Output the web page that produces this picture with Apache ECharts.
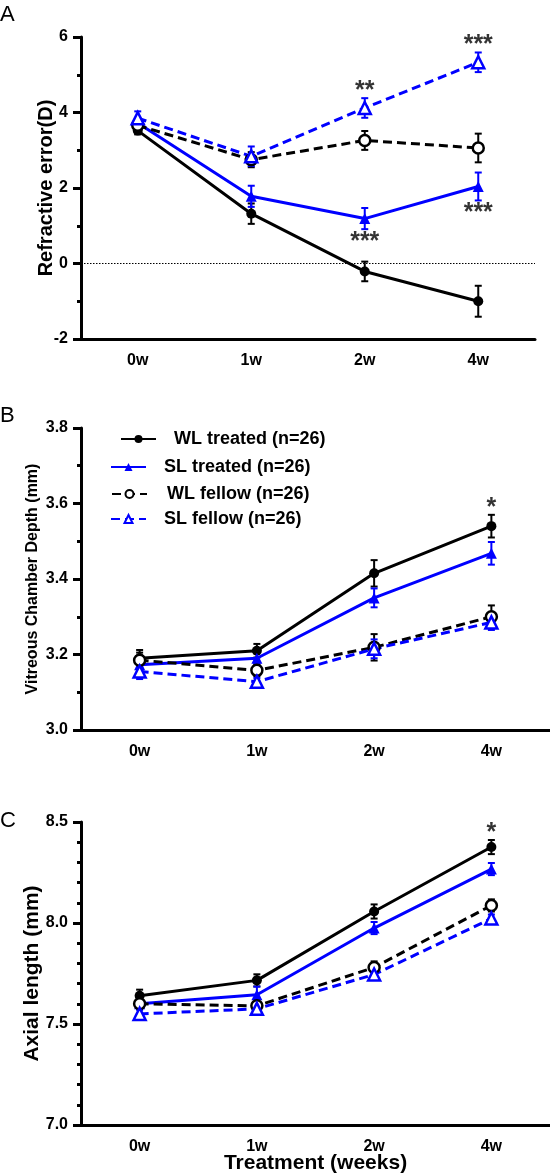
<!DOCTYPE html>
<html><head><meta charset="utf-8">
<script src="https://cdn.jsdelivr.net/npm/echarts@6/dist/echarts.min.js"></script>
<style>html,body{margin:0;padding:0;background:#fff}#c{width:550px;height:1176px}</style>
</head><body><div id="c"></div>
<script>
// ---------- DATA ----------
const categories = ['0w', '1w', '2w', '4w'];
const seriesNames = ['WL treated (n=26)', 'SL treated (n=26)', 'WL fellow (n=26)', 'SL fellow (n=26)'];

// Panel A: refractive error (D)
const refWLTreated = [3.52, 1.32, -0.21, -1.00];
const refWLTreatedErr = [0.10, 0.27, 0.26, 0.41];
const refSLTreated = [3.72, 1.78, 1.19, 2.04];
const refSLTreatedErr = [0.12, 0.28, 0.28, 0.37];
const refWLFellow = [3.66, 2.75, 3.26, 3.06];
const refWLFellowErr = [0.12, 0.20, 0.25, 0.38];
const refSLFellow = [3.85, 2.84, 4.12, 5.33];
const refSLFellowErr = [0.18, 0.26, 0.26, 0.26];

// Panel B: vitreous chamber depth (mm)
const vcdWLTreated = [3.190, 3.210, 3.415, 3.540];
const vcdWLTreatedErr = [0.022, 0.018, 0.035, 0.030];
const vcdSLTreated = [3.173, 3.190, 3.350, 3.468];
const vcdSLTreatedErr = [0.015, 0.015, 0.025, 0.030];
const vcdWLFellow = [3.185, 3.158, 3.219, 3.300];
const vcdWLFellowErr = [0.020, 0.015, 0.035, 0.030];
const vcdSLFellow = [3.155, 3.128, 3.215, 3.285];
const vcdSLFellowErr = [0.020, 0.010, 0.025, 0.020];

// Panel C: axial length (mm)
const alWLTreated = [7.640, 7.716, 8.057, 8.376];
const alWLTreatedErr = [0.030, 0.030, 0.035, 0.035];
const alSLTreated = [7.600, 7.645, 7.975, 8.267];
const alSLTreatedErr = [0.020, 0.040, 0.030, 0.030];
const alWLFellow = [7.600, 7.590, 7.780, 8.087];
const alWLFellowErr = [0.020, 0.020, 0.030, 0.030];
const alSLFellow = [7.550, 7.575, 7.745, 8.022];
const alSLFellowErr = [0.020, 0.020, 0.020, 0.020];

// Significance marks: category index, text, series index anchored to, side
const starCatsA = [2, 3, 2, 3];
const starTextA = ['**', '***', '***', '***'];
const starSeriesA = [3, 3, 1, 1];
const starSideA = ['above', 'above', 'below', 'below'];
const starCatsB = [3];
const starTextB = ['*'];
const starSeriesB = [0];
const starSideB = ['above'];
const starCatsC = [3];
const starTextC = ['*'];
const starSeriesC = [0];
const starSideC = ['above'];

// Axis ticks
const yTicksA = {min: -2, max: 6, interval: 2};
const yTicksB = {min: 3.0, max: 3.8, interval: 0.2};
const yTicksC = {min: 7.0, max: 8.5, interval: 0.5};

// ---------- BUILD ----------
const FONT = '"Liberation Sans", Arial, sans-serif';
const BLUE = '#0000ff';
const styles = [
  {color: '#000', dash: 'solid', symbol: 'circle', size: 10, fill: '#000'},
  {color: BLUE, dash: 'solid', symbol: 'triangle', size: 11, fill: BLUE},
  {color: '#000', dash: [9, 5], symbol: 'circle', size: 11, fill: '#fff'},
  {color: BLUE, dash: [9, 5], symbol: 'triangle', size: 12, fill: '#fff'}
];

const panels = [
  {means: [refWLTreated, refSLTreated, refWLFellow, refSLFellow],
   errs: [refWLTreatedErr, refSLTreatedErr, refWLFellowErr, refSLFellowErr],
   stars: [starCatsA, starTextA, starSeriesA, starSideA]},
  {means: [vcdWLTreated, vcdSLTreated, vcdWLFellow, vcdSLFellow],
   errs: [vcdWLTreatedErr, vcdSLTreatedErr, vcdWLFellowErr, vcdSLFellowErr],
   stars: [starCatsB, starTextB, starSeriesB, starSideB]},
  {means: [alWLTreated, alSLTreated, alWLFellow, alSLFellow],
   errs: [alWLTreatedErr, alSLTreatedErr, alWLFellowErr, alSLFellowErr],
   stars: [starCatsC, starTextC, starSeriesC, starSideC]}
];

const grids = [
  {left: 81, right: 15, top: 37, height: 302},
  {left: 81, right: 0, top: 428, height: 302},
  {left: 81, right: 0, top: 822, height: 303}
];

const labelFont = {fontFamily: FONT, fontWeight: 'bold', fontSize: 16, color: '#000'};

const xAxes = grids.map((g, i) => ({
  type: 'category', gridIndex: i, data: categories, boundaryGap: true,
  axisLine: {onZero: false, lineStyle: {color: '#000', width: 3}},
  axisTick: {alignWithLabel: true, length: 7, lineStyle: {width: 3, color: '#000'}},
  axisLabel: Object.assign({margin: 14}, labelFont),
  splitLine: {show: false},
  name: i === 2 ? 'Treatment (weeks)' : '',
  nameLocation: 'middle', nameGap: 28, nameMoveOverlap: false,
  nameTextStyle: {fontFamily: FONT, fontWeight: 'bold', fontSize: 21, color: '#000'}
}));

const yTickSets = [yTicksA, yTicksB, yTicksC];
const yNames = ['Refractive error(D)', 'Vitreous Chamber Depth (mm)', 'Axial length (mm)'];
const yNameStyles = [
  {fontSize: 20, fontWeight: 'bold', gap: 25},
  {fontSize: 16, fontWeight: 'bold', gap: 40},
  {fontSize: 21, fontWeight: 'bold', gap: 38}
];
const minorSplits = [2, 2, 5];
const yAxes = yTickSets.map((t, i) => ({
  type: 'value', gridIndex: i, min: t.min, max: t.max, interval: t.interval,
  axisLine: {show: true, lineStyle: {color: '#000', width: 3}},
  axisTick: {show: true, length: 8, lineStyle: {width: 3, color: '#000'}},
  minorTick: {show: true, splitNumber: minorSplits[i], length: 4, lineStyle: {width: 3, color: '#000'}},
  axisLabel: Object.assign({margin: 13, formatter: v => i === 0 ? String(v) : v.toFixed(1)}, labelFont),
  splitLine: {show: false},
  name: yNames[i], nameLocation: 'middle', nameGap: yNameStyles[i].gap, nameMoveOverlap: false,
  nameTextStyle: {fontFamily: FONT, fontWeight: yNameStyles[i].fontWeight, fontSize: yNameStyles[i].fontSize, color: '#000'}
}));

const series = [];
panels.forEach((p, pi) => {
  // error bars
  p.means.forEach((m, si) => {
    const st = styles[si];
    series.push({
      type: 'custom', name: 'err' + pi + '_' + si, xAxisIndex: pi, yAxisIndex: pi,
      silent: true, z: 2,
      data: m.map((v, k) => [k, v - p.errs[si][k], v + p.errs[si][k]]),
      renderItem: (params, api) => {
        const lo = api.coord([api.value(0), api.value(1)]);
        const hi = api.coord([api.value(0), api.value(2)]);
        const w = 3.5;
        const style = {stroke: st.color, lineWidth: 2, fill: null};
        return {type: 'group', children: [
          {type: 'line', shape: {x1: lo[0], y1: lo[1], x2: hi[0], y2: hi[1]}, style},
          {type: 'line', shape: {x1: lo[0] - w, y1: lo[1], x2: lo[0] + w, y2: lo[1]}, style},
          {type: 'line', shape: {x1: hi[0] - w, y1: hi[1], x2: hi[0] + w, y2: hi[1]}, style}
        ]};
      }
    });
  });
  // lines
  p.means.forEach((m, si) => {
    const st = styles[si];
    const s = {
      type: 'line', name: seriesNames[si], xAxisIndex: pi, yAxisIndex: pi,
      data: m, symbol: st.symbol, symbolSize: st.size, showSymbol: true,
      lineStyle: {color: st.color, width: 3, type: st.dash},
      itemStyle: {color: st.fill, borderColor: st.color, borderWidth: st.fill === st.color ? 0 : 2.5},
      z: 3, silent: true
    };
    if (pi === 0 && si === 0) {
      s.markLine = {silent: true, symbol: 'none', label: {show: false},
        lineStyle: {type: [1.5, 1.5], color: '#000', width: 1}, data: [{yAxis: 0}]};
    }
    series.push(s);
  });
  // significance stars
  const [cats, texts, sIdx, sides] = p.stars;
  series.push({
    type: 'scatter', name: 'stars' + pi, xAxisIndex: pi, yAxisIndex: pi,
    symbolSize: 0, silent: true, z: 5,
    data: cats.map((c, k) => {
      const si = sIdx[k];
      const above = sides[k] === 'above';
      const anchor = p.means[si][c] + (above ? p.errs[si][c] : -p.errs[si][c]);
      return {value: [c, anchor], name: texts[k],
        label: {offset: [0, above ? -7 : 13]}};
    }),
    label: {show: true, position: 'inside', formatter: '{b}',
      fontFamily: FONT, fontWeight: 'bold', fontSize: 25, color: '#000'}
  });
});

const legendPos = [
  {left: 120, top: 430, pad: 13},
  {left: 110, top: 458, pad: 13},
  {left: 111, top: 485, pad: 15},
  {left: 110, top: 510, pad: 13}
];
const legends = seriesNames.map((n, i) => ({
  data: [n], left: legendPos[i].left, top: legendPos[i].top, orient: 'vertical',
  itemWidth: 35, itemHeight: 10, selectedMode: false, padding: 0,
  textStyle: {fontFamily: FONT, fontWeight: 'bold', fontSize: 18, color: '#000', padding: [0, 0, 0, legendPos[i].pad]}
}));

const letters = [['A', 4], ['B', 405], ['C', 810]];
const graphic = letters.map(([t, y]) => ({
  type: 'text', left: 0, top: y,
  style: {text: t, font: 'normal 22px ' + FONT, fill: '#000'}
}));

const chart = echarts.init(document.getElementById('c'), null, {renderer: 'canvas'});
chart.setOption({
  animation: false,
  backgroundColor: '#fff',
  grid: grids,
  xAxis: xAxes,
  yAxis: yAxes,
  legend: legends,
  graphic: graphic,
  series: series
});
</script>
</body></html>
